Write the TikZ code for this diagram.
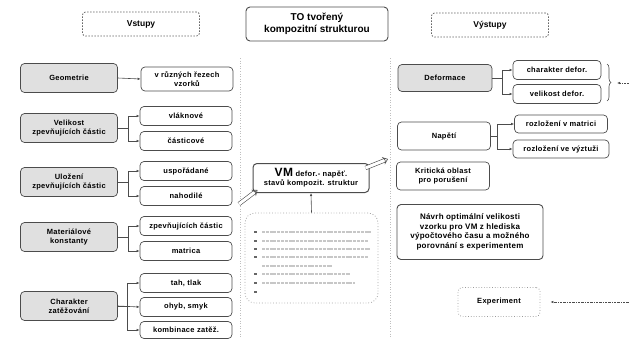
\documentclass[tikz,border=0pt]{standalone}
\usepackage{fontspec}
\setmainfont{Liberation Sans}
\usetikzlibrary{arrows.meta,decorations.pathreplacing}

\begin{document}
\begin{tikzpicture}[x=1pt,y=-1pt,
    box/.style={draw=black!70, line width=0.7pt, rounded corners=4pt, align=center,
        inner sep=1pt, font=\fontsize{7.5}{9}\selectfont\bfseries\addfontfeature{LetterSpace=4}},
    hlavni/.style={box, fill=black!12, minimum width=97pt, minimum height=29pt},
    maly/.style={box, minimum width=92pt, minimum height=19pt},
    nadpis/.style={draw=black!60, line width=0.8pt, dash pattern=on 1.5pt off 1.5pt,
        rounded corners=3pt, minimum width=117pt, minimum height=24pt,
        font=\fontsize{8.5}{10}\selectfont\bfseries},
    sipka/.style={draw=black!70, line width=0.6pt, -{Latex[length=3pt,width=2.5pt]}},
    dvojsipka/.style={draw=black!70, line width=0.6pt, double=white, double distance=3pt,
        -{Stealth[open,length=5pt,width=8pt]}},
    delic/.style={black!25, line width=0.6pt, dotted}
]
    \useasboundingbox (0,0) rectangle (629,340);

    % nadpisy
    \node[nadpis] (vstupy) at (141,24) {Vstupy};
    \node[nadpis] (vystupy) at (490,25) {Výstupy};
    \node[box, minimum width=142pt, minimum height=34pt, line width=0.9pt,
        font=\fontsize{10}{11.5}\selectfont\bfseries] (to) at (317,24)
        {TO tvořený\\kompozitní strukturou};

    % svisle delici cary
    \draw[delic] (240,58) -- (240,338);
    \draw[delic] (390,58) -- (390,338);

    % vstupy - leva strana
    \node[hlavni] (geo) at (69,78) {Geometrie};
    \node[maly, minimum height=24pt] (rez) at (187,79) {v různých řezech\\vzorků};
    \draw[sipka] (geo.east) -- (rez.west);

    \node[hlavni] (vel) at (69,128) {Velikost\\zpevňujících částic};
    \node[maly] (vla) at (186,116) {vláknové};
    \node[maly] (cas) at (186,141) {částicové};
    \draw[sipka] (vel.east) -- ++(10,0) |- (vla.west);
    \draw[sipka] (vel.east) -- ++(10,0) |- (cas.west);

    \node[hlavni] (ulo) at (69,182) {Uložení\\zpevňujících částic};
    \node[maly] (usp) at (186,171) {uspořádané};
    \node[maly] (nah) at (186,196) {nahodilé};
    \draw[sipka] (ulo.east) -- ++(10,0) |- (usp.west);
    \draw[sipka] (ulo.east) -- ++(10,0) |- (nah.west);

    \node[hlavni] (mat) at (69,237) {Materiálové\\konstanty};
    \node[maly] (zpe) at (186,226) {zpevňujících částic};
    \node[maly] (mtr) at (186,251) {matrica};
    \draw[sipka] (mat.east) -- ++(10,0) |- (zpe.west);
    \draw[sipka] (mat.east) -- ++(10,0) |- (mtr.west);

    \node[hlavni] (zat) at (69,306) {Charakter\\zatěžování};
    \node[maly] (tah) at (186,283) {tah, tlak};
    \node[maly] (ohy) at (186,307) {ohyb, smyk};
    \node[maly, minimum height=17pt] (kom) at (186,330) {kombinace zatěž.};
    \draw[sipka] (zat.east) -- ++(9,0) |- (tah.west);
    \draw[sipka] (zat.east) -- (ohy.west);
    \draw[sipka] (zat.east) -- ++(9,0) |- (kom.west);

    % model uprostred
    \node[box, minimum width=116pt, minimum height=29pt, line width=1pt] (vm) at (311,178)
        {{\fontsize{12}{12}\selectfont VM} defor.- napěť.\\stavů kompozit. struktur};
    \coordinate (vmvstup) at (239,204);
    \coordinate (vmvystup) at (388,159);
    \draw[dvojsipka] (vmvstup) -- ([xshift=5pt,yshift=3pt]vm.south west);
    \draw[dvojsipka] ([xshift=-4pt,yshift=-5pt]vm.north east) -- (vmvystup);

    % poznamky pod modelem (necitelny text)
    \node[draw=black!35, dotted, line width=0.8pt, rounded corners=10pt,
        minimum width=133pt, minimum height=90pt] (pozn) at (311.5,258) {};
    \draw[sipka] (pozn.north) -- (vm.south);
    \foreach \yy/\konec in {232/372, 241/368, 249/370, 257/368, 274/350, 283/355} {
        \fill[black!60] (253.5,\yy-1.3) rectangle (256.5,\yy+1.3);
        \draw[black!22, line width=1.5pt, dash pattern=on 3pt off 0.8pt] (262,\yy) -- (\konec,\yy);
    }
    \draw[black!22, line width=1.5pt, dash pattern=on 3pt off 0.8pt] (262,266) -- (332,266);
    \fill[black!60] (253.5,290.7) rectangle (256.5,293.3);

    % vystupy - prava strana
    \node[hlavni, minimum width=94pt, minimum height=27pt] (def) at (445,78) {Deformace};
    \node[maly, minimum width=88pt] (chd) at (557,70) {charakter defor.};
    \node[maly, minimum width=88pt] (vld) at (557,94) {velikost defor.};
    \draw[sipka] (def.east) -- ++(10,0) |- (chd.west);
    \draw[sipka] (def.east) -- ++(10,0) |- (vld.west);
    \draw[black!70, line width=0.6pt, decorate, decoration={brace, amplitude=4pt}]
        (607,64) -- (607,101);
    \coordinate (defvpravo) at (629,83);
    \draw[sipka, densely dotted] (defvpravo) -- (617,83);

    \node[box, minimum width=93pt, minimum height=28pt] (nap) at (444,136) {Napětí};
    \node[maly, minimum width=93pt, minimum height=18pt] (rvm) at (561,124) {rozložení v matrici};
    \node[maly, minimum width=96pt, minimum height=18pt] (rvv) at (561,149) {rozložení ve výztuži};
    \draw[sipka] (nap.east) -- ++(6,0) |- (rvm.west);
    \draw[sipka] (nap.east) -- ++(6,0) |- (rvv.west);

    \node[box, minimum width=93pt, minimum height=28pt] (kri) at (443,176)
        {Kritická oblast\\pro porušení};
    \node[box, minimum width=146pt, minimum height=55pt, line width=0.9pt,
        font=\fontsize{8}{9.5}\selectfont\bfseries\addfontfeature{LetterSpace=3}] (nav) at (470,232)
        {Návrh optimální velikosti\\vzorku pro VM z hlediska\\výpočtového času a možného\\porovnání s experimentem};

    \node[box, draw=black!40, dotted, line width=0.8pt, minimum width=82pt, minimum height=29pt]
        (exp) at (499,302) {Experiment};
    \coordinate (expvpravo) at (629,302);
    \draw[sipka, dash pattern=on 2pt off 1pt on 0.5pt off 1pt] (expvpravo) -- ([xshift=10pt]exp.east);
\end{tikzpicture}
\end{document}
